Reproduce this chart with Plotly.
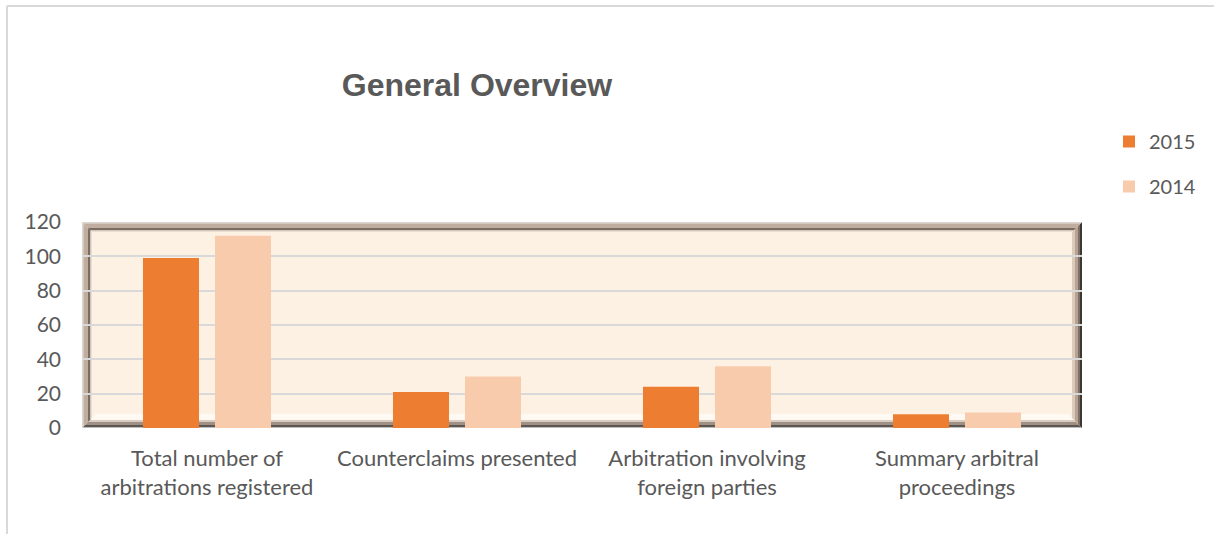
import plotly.graph_objects as go

categories = ["Total number of<br>arbitrations registered", "Counterclaims presented",
              "Arbitration involving<br>foreign parties", "Summary arbitral<br>proceedings"]
series_names = ["2015", "2014"]
values_2015 = [99, 21, 24, 8]
values_2014 = [112, 30, 36, 9]
y_ticks = [0, 20, 40, 60, 80, 100, 120]

colors = {"2015": "#ED7D31", "2014": "#F8CBAD"}
FONT = "Lato"
TXT = "#595959"

fig = go.Figure()
for name, vals in zip(series_names, [values_2015, values_2014]):
    fig.add_trace(go.Bar(x=categories, y=vals, name=name, marker_color=colors[name],
                         marker_line_width=0, legendgroup=name))

# plot area geometry (pixels) used to convert frame insets to domain fractions
PW, PH = 1000.0, 206.0

def band(side, a, b):
    ax, ay, bx, by = a / PW, a / PH, b / PW, b / PH
    if side == "top":
        pts = [(ax, 1 - ay), (1 - ax, 1 - ay), (1 - bx, 1 - by), (bx, 1 - by)]
    elif side == "bottom":
        pts = [(ax, ay), (1 - ax, ay), (1 - bx, by), (bx, by)]
    elif side == "left":
        pts = [(ax, ay), (ax, 1 - ay), (bx, 1 - by), (bx, by)]
    else:
        pts = [(1 - ax, ay), (1 - ax, 1 - ay), (1 - bx, 1 - by), (1 - bx, by)]
    return "M" + " L".join(f"{x:.5f},{y:.5f}" for x, y in pts) + " Z"

frame = {
    "top": [(0, 1.5, "#DAD5D0"), (1.5, 6, "#BFAE9F"), (6, 8.5, "#7B6C60"), (8.5, 10, "#E9DED3")],
    "left": [(0, 1.5, "#DAD5D0"), (1.5, 6, "#BFAE9F"), (6, 8.5, "#7B6C60"), (8.5, 10, "#E9DED3")],
    "right": [(0, 2, "#3E3833"), (2, 4, "#7E7066"), (4, 7, "#B7A393"), (7, 10, "#DCCBBB")],
    "bottom": [(0, 1, "#BDBDBD"), (1, 3, "#5E5650"), (3, 6, "#9E9084"), (6, 8, "#D9CCC0"), (8, 14, "#FFF9F3")],
}
shapes = []
for side in ["bottom", "right", "top", "left"]:
    for a, b, c in frame[side]:
        shapes.append(dict(type="path", path=band(side, a, b), xref="x domain", yref="y domain",
                           fillcolor=c, line_width=0, layer="below"))

# outer chart border (top and left edges visible)
shapes.append(dict(type="line", xref="paper", yref="paper", x0=(7 - 82) / PW, x1=(1214 - 82) / PW,
                   y0=(428 - 6) / PH, y1=(428 - 6) / PH, line=dict(color="#D9D9D9", width=2)))
shapes.append(dict(type="line", xref="paper", yref="paper", x0=(7 - 82) / PW, x1=(7 - 82) / PW,
                   y0=(428 - 6) / PH, y1=(428 - 540) / PH, line=dict(color="#D9D9D9", width=2)))

fig.update_layout(
    width=1214, height=534,
    margin=dict(l=82, r=132, t=222, b=106),
    paper_bgcolor="white", plot_bgcolor="#FDF1E3",
    barmode="group", bargap=0.424, bargroupgap=0.222,
    title=dict(text="<b>General Overview</b>", x=477 / 1214, xref="container", xanchor="center",
               y=1 - 85 / 534, yref="container", yanchor="middle",
               font=dict(family="Liberation Sans, Arial", size=32, color=TXT)),
    font=dict(family=FONT, size=20, color=TXT),
    legend=dict(x=(1109 - 82) / PW, xanchor="left", y=(428 - 122) / PH, yanchor="top",
                font=dict(family=FONT, size=20, color=TXT), tracegroupgap=16,
                bgcolor="rgba(0,0,0,0)"),
    shapes=shapes,
    showlegend=True,
)
fig.update_xaxes(showgrid=False, zeroline=False, showline=False, ticks="",
                 tickfont=dict(family=FONT, size=22, color=TXT), ticklabelstandoff=15)
fig.update_yaxes(range=[0, 120], tickvals=y_ticks, showgrid=True, gridcolor="#D9D9D9", gridwidth=1.5,
                 zeroline=False, showline=False, ticks="",
                 tickfont=dict(family=FONT, size=21, color=TXT), ticklabelstandoff=20)

fig.write_html("out.html")
